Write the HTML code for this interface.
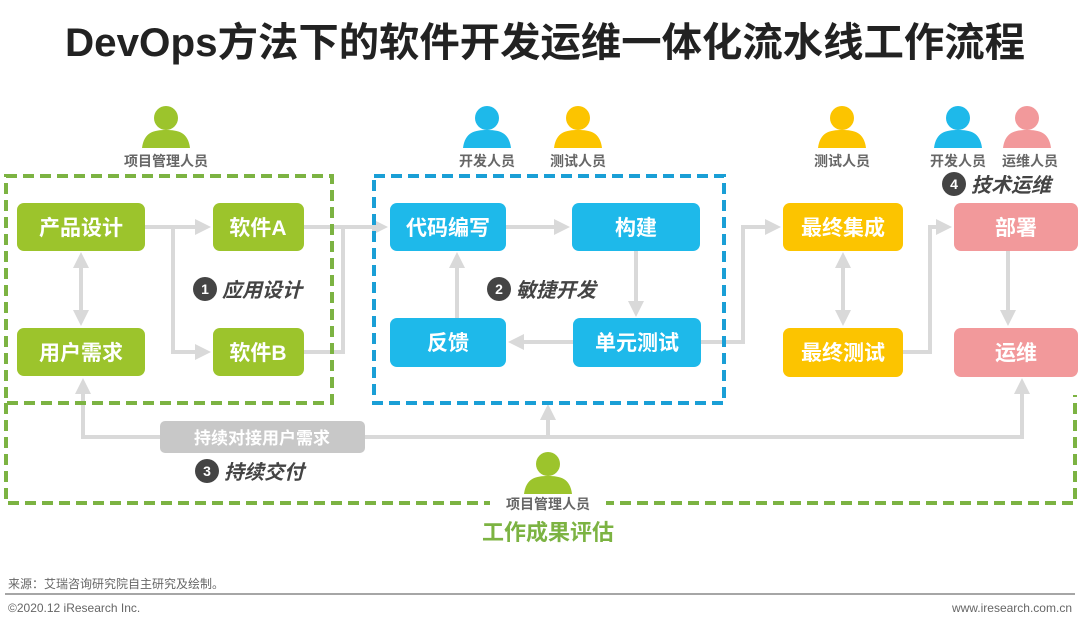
<!DOCTYPE html>
<html><head><meta charset="utf-8"><style>
html,body{margin:0;padding:0;background:#fff;}
svg{display:block;font-family:"Liberation Sans","Noto Sans CJK SC",sans-serif;}
.nt{font-size:21px;font-weight:bold;fill:#fff;text-anchor:middle;}
.pl{font-size:14px;font-weight:bold;fill:#666;text-anchor:middle;}
.st{font-size:20px;font-weight:bold;font-style:italic;fill:#444;}
.ln{stroke:#d9d9d9;stroke-width:4;fill:none;}
</style></head><body>
<svg width="1080" height="624" viewBox="0 0 1080 624">
<defs>
<marker id="ar" markerWidth="4" markerHeight="4" refX="2" refY="2" orient="auto" markerUnits="strokeWidth"><path d="M0,0 L4,2 L0,4 z" fill="#d9d9d9"/></marker>
<marker id="as" markerWidth="4" markerHeight="4" refX="2" refY="2" orient="auto-start-reverse" markerUnits="strokeWidth"><path d="M0,0 L4,2 L0,4 z" fill="#d9d9d9"/></marker>
<g id="person"><circle cx="0" cy="-30" r="12"/><path d="M-24,0 C-22,-16 -12,-18 0,-18 C12,-18 22,-16 24,0 z"/></g>
</defs>
<text x="545" y="56" font-size="40" font-weight="bold" fill="#222" text-anchor="middle" textLength="960" lengthAdjust="spacingAndGlyphs">DevOps方法下的软件开发运维一体化流水线工作流程</text>

<!-- connectors -->
<path class="ln" d="M145,227 H203" marker-end="url(#ar)"/>
<path class="ln" d="M173,227 V352 H203" marker-end="url(#ar)"/>
<path class="ln" d="M81,260 V318" marker-start="url(#as)" marker-end="url(#ar)"/>
<path class="ln" d="M304,227 H380" marker-end="url(#ar)"/>
<path class="ln" d="M304,352 H343 V227"/>
<path class="ln" d="M506,227 H562" marker-end="url(#ar)"/>
<path class="ln" d="M636,251 V309" marker-end="url(#ar)"/>
<path class="ln" d="M573,342 H516" marker-end="url(#ar)"/>
<path class="ln" d="M457,318 V260" marker-end="url(#ar)"/>
<path class="ln" d="M701,342 H743 V227 H773" marker-end="url(#ar)"/>
<path class="ln" d="M843,260 V318" marker-start="url(#as)" marker-end="url(#ar)"/>
<path class="ln" d="M903,352 H930 V227 H944" marker-end="url(#ar)"/>
<path class="ln" d="M1008,251 V318" marker-end="url(#ar)"/>
<path class="ln" d="M83,386 V437 H1022 V386" marker-start="url(#as)" marker-end="url(#ar)"/>
<path class="ln" d="M548,437 V412" marker-end="url(#ar)"/>

<!-- dashed boxes -->
<rect x="6" y="176" width="326" height="227" fill="none" stroke="#7cb342" stroke-width="4" stroke-dasharray="11,6"/>
<rect x="374" y="176" width="350" height="227" fill="none" stroke="#1a9fd6" stroke-width="4" stroke-dasharray="11,6"/>
<path d="M6,403 V503 H1075 V395" fill="none" stroke="#7cb342" stroke-width="4" stroke-dasharray="11,6"/>

<!-- nodes -->
<g fill="#9cc42c">
<rect x="17" y="203" width="128" height="48" rx="7"/>
<rect x="213" y="203" width="91" height="48" rx="7"/>
<rect x="17" y="328" width="128" height="48" rx="7"/>
<rect x="213" y="328" width="91" height="48" rx="7"/>
</g>
<g fill="#1eb9ea">
<rect x="390" y="203" width="116" height="48" rx="7"/>
<rect x="572" y="203" width="128" height="48" rx="7"/>
<rect x="390" y="318" width="116" height="49" rx="7"/>
<rect x="573" y="318" width="128" height="49" rx="7"/>
</g>
<g fill="#fcc400">
<rect x="783" y="203" width="120" height="48" rx="7"/>
<rect x="783" y="328" width="120" height="49" rx="7"/>
</g>
<g fill="#f2999b">
<rect x="954" y="203" width="124" height="48" rx="7"/>
<rect x="954" y="328" width="124" height="49" rx="7"/>
</g>
<text class="nt" x="81" y="235">产品设计</text>
<text class="nt" x="258" y="235">软件A</text>
<text class="nt" x="81" y="360">用户需求</text>
<text class="nt" x="258" y="360">软件B</text>
<text class="nt" x="448" y="235">代码编写</text>
<text class="nt" x="636" y="235">构建</text>
<text class="nt" x="448" y="350">反馈</text>
<text class="nt" x="637" y="350">单元测试</text>
<text class="nt" x="843" y="235">最终集成</text>
<text class="nt" x="843" y="360">最终测试</text>
<text class="nt" x="1016" y="235">部署</text>
<text class="nt" x="1016" y="360">运维</text>

<!-- persons -->
<use href="#person" x="166" y="148" fill="#9cc42c"/>
<use href="#person" x="487" y="148" fill="#1eb9ea"/>
<use href="#person" x="578" y="148" fill="#fcc400"/>
<use href="#person" x="842" y="148" fill="#fcc400"/>
<use href="#person" x="958" y="148" fill="#1eb9ea"/>
<use href="#person" x="1027" y="148" fill="#f2999b"/>
<text class="pl" x="166" y="166">项目管理人员</text>
<text class="pl" x="487" y="166">开发人员</text>
<text class="pl" x="578" y="166">测试人员</text>
<text class="pl" x="842" y="166">测试人员</text>
<text class="pl" x="958" y="166">开发人员</text>
<text class="pl" x="1030" y="166">运维人员</text>

<!-- steps -->
<circle cx="205" cy="289" r="12" fill="#444"/><text x="205" y="294" font-size="14" font-weight="bold" fill="#fff" text-anchor="middle">1</text>
<text class="st" x="222" y="297">应用设计</text>
<circle cx="499" cy="289" r="12" fill="#444"/><text x="499" y="294" font-size="14" font-weight="bold" fill="#fff" text-anchor="middle">2</text>
<text class="st" x="516" y="297">敏捷开发</text>
<circle cx="954" cy="184" r="12" fill="#444"/><text x="954" y="189" font-size="14" font-weight="bold" fill="#fff" text-anchor="middle">4</text>
<text class="st" x="971" y="192">技术运维</text>
<circle cx="207" cy="471" r="12" fill="#444"/><text x="207" y="476" font-size="14" font-weight="bold" fill="#fff" text-anchor="middle">3</text>
<text class="st" x="224" y="479">持续交付</text>

<rect x="160" y="421" width="205" height="32" rx="5" fill="#c8c8c8"/>
<text x="262" y="444" font-size="17" font-weight="bold" fill="#fff" text-anchor="middle">持续对接用户需求</text>

<use href="#person" x="548" y="494" fill="#9cc42c"/>
<rect x="490" y="495" width="116" height="18" fill="#fff"/>
<text class="pl" x="548" y="509">项目管理人员</text>
<text x="548" y="540" font-size="22" font-weight="bold" fill="#7cb342" text-anchor="middle">工作成果评估</text>

<text x="8" y="588" font-size="12" fill="#666">来源：艾瑞咨询研究院自主研究及绘制。</text>
<line x1="5" y1="594" x2="1075" y2="594" stroke="#888" stroke-width="1.5"/>
<text x="8" y="612" font-size="12" fill="#666">©2020.12 iResearch Inc.</text>
<text x="1072" y="612" font-size="12" fill="#666" text-anchor="end">www.iresearch.com.cn</text>
</svg>
</body></html>
